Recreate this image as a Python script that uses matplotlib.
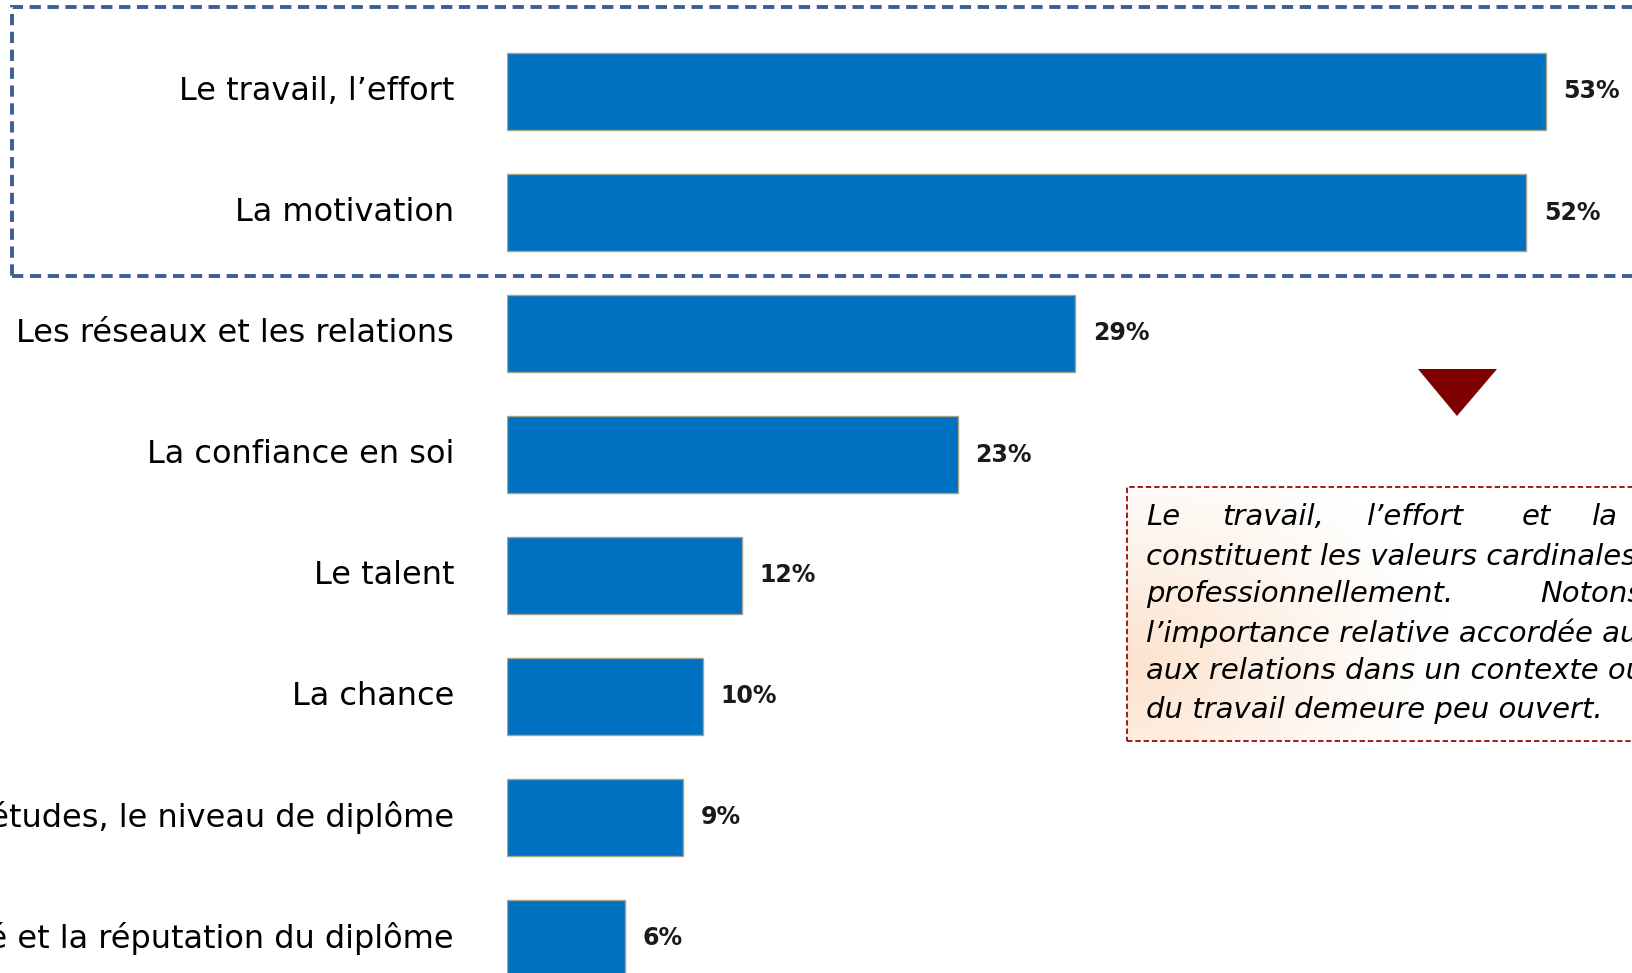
import matplotlib.pyplot as plt
import numpy as np
from matplotlib.patches import Rectangle, Polygon

# data
categories = [
    "Le travail, l’effort",
    "La motivation",
    "Les réseaux et les relations",
    "La confiance en soi",
    "Le talent",
    "La chance",
    "Le niveau d’études, le niveau de diplôme",
    "La notoriété et la réputation du diplôme",
]
values = [53, 52, 29, 23, 12, 10, 9, 6]
value_labels = ["53%", "52%", "29%", "23%", "12%", "10%", "9%", "6%"]

W, H = 1632, 973
BAR_COLOR = "#0070C0"


def fx(x):
    return x / W


def fy(y):
    return 1 - y / H


fig = plt.figure(figsize=(W / 100, H / 100), dpi=100)
fig.patch.set_facecolor("white")

# bars: axes starts at the bars' left edge
x0 = 507
px_per_unit = 19.6
row = 121.0
first_center = 91.5
ax = fig.add_axes([fx(x0), 0, 1 - fx(x0), 1])
ax.set_xlim(0, (W - x0) / px_per_unit)
ax.set_ylim((H - first_center) / row, -first_center / row)
ax.axis("off")

pos = np.arange(len(categories))
ax.barh(pos, values, height=77 / row, color=BAR_COLOR,
        edgecolor="#a8a288", linewidth=1.0)

for p, v, lab in zip(pos, values, value_labels):
    ax.text(v + 0.9, p, lab, va="center", ha="left", fontsize=17,
            fontweight="bold", family="DejaVu Sans", color="#1a1a1a")

for p, cat in zip(pos, categories):
    ax.text(-53 / px_per_unit, p, cat, va="center", ha="right",
            fontsize=23, family="DejaVu Sans", color="black")

# dashed blue frame around the top two bars
fig.add_artist(Rectangle((fx(12), fy(276)), fx(1700 - 12), (276 - 7) / H,
                         fill=False, edgecolor="#3A5F92", linewidth=2.8,
                         linestyle=(0, (2.9, 1.7)), transform=fig.transFigure))

# dark red triangle
fig.add_artist(Polygon([(fx(1418), fy(369)), (fx(1497), fy(369)),
                        (fx(1457), fy(416))], closed=True,
                       facecolor="#7F0000", edgecolor="none",
                       transform=fig.transFigure))

# comment box with light gradient
bx0, by0, bx1, by1 = 1127, 487, 1700, 741
gax = fig.add_axes([fx(bx0), fy(by1), fx(bx1 - bx0), (by1 - by0) / H])
gax.axis("off")
gx, gy = np.meshgrid(np.linspace(0, 1, 200), np.linspace(0, 1, 100))
d = np.sqrt(((gx - 0.0) * 1.6) ** 2 + (gy - 0.3) ** 2)
wgt = np.clip(1 - d / 0.9, 0, 1) ** 1.2
peach = np.array([252, 226, 204]) / 255
img = 1 - wgt[..., None] * (1 - peach)
gax.imshow(img, aspect="auto", origin="lower", extent=[0, 1, 0, 1])
gax.set_xlim(0, 1)
gax.set_ylim(0, 1)
fig.add_artist(Rectangle((fx(bx0), fy(by1)), fx(bx1 - bx0), (by1 - by0) / H,
                         fill=False, edgecolor="#9A0C0C", linewidth=1.3,
                         linestyle=(0, (3, 1.6)), transform=fig.transFigure))

tkw = dict(fontsize=21, style="italic", family="DejaVu Sans", va="center",
           ha="left", color="black", transform=fig.transFigure)
line_y = [517, 556, 594, 633, 671, 710]
# justified lines: word by word
for word, x in [("Le", 1146), ("travail,", 1222), ("l’effort", 1367),
                ("et", 1522), ("la", 1592)]:
    fig.text(fx(x), fy(line_y[0]), word, **tkw)
fig.text(fx(1146), fy(line_y[1]), "constituent les valeurs cardinales pour réussir", **tkw)
for word, x in [("professionnellement.", 1146), ("Notons", 1540)]:
    fig.text(fx(x), fy(line_y[2]), word, **tkw)
fig.text(fx(1146), fy(line_y[3]), "l’importance relative accordée aux réseaux et", **tkw)
fig.text(fx(1146), fy(line_y[4]), "aux relations dans un contexte où le marché", **tkw)
fig.text(fx(1146), fy(line_y[5]), "du travail demeure peu ouvert.", **tkw)

fig.savefig("out.png", dpi=100)
plt.close(fig)
